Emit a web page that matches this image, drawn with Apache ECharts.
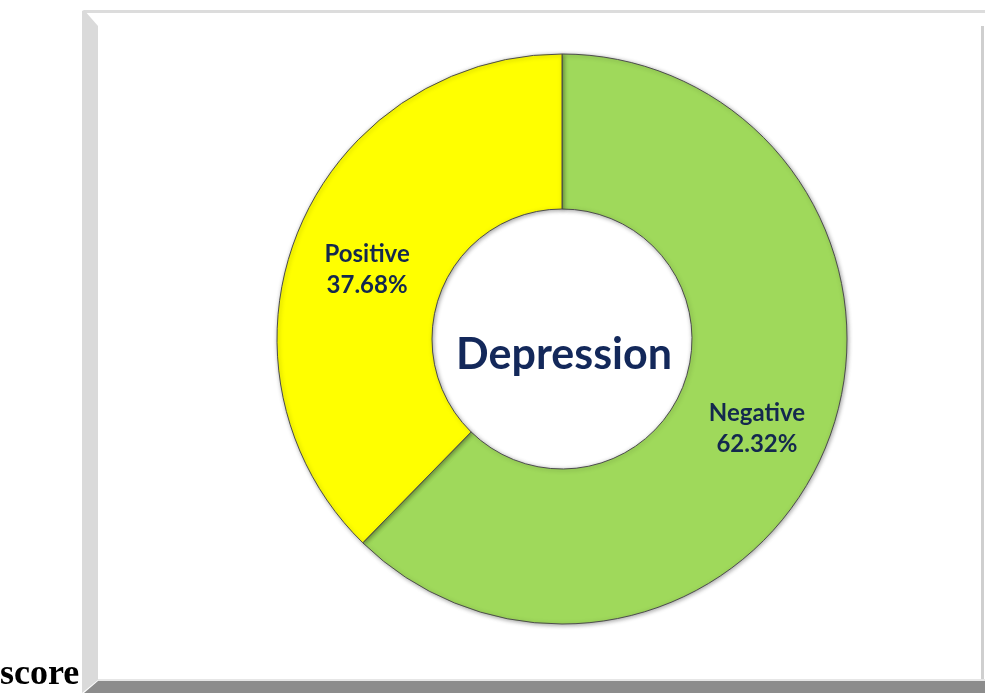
<!DOCTYPE html>
<html>
<head>
<meta charset="utf-8">
<script src="https://cdn.jsdelivr.net/npm/echarts@6/dist/echarts.min.js"></script>
<style>
html,body{margin:0;padding:0;background:#fff;}
#chart{width:985px;height:699px;}
</style>
</head>
<body>
<div id="chart"></div>
<script>
const categories = ['Negative', 'Positive'];
const values = [62.32, 37.68];
const colors = ['#9fd95b', '#ffff00'];
const centerTitle = 'Depression';
const sideText = 'score';

const chart = echarts.init(document.getElementById('chart'));
const option = {
  backgroundColor: '#ffffff',
  animation: false,
  graphic: [
    { type: 'rect', shape: { x: 84, y: 10, width: 901, height: 3 }, style: { fill: '#dcdcdc' }, z: 0 },
    { type: 'rect', shape: { x: 981, y: 26, width: 3, height: 656 }, style: { fill: '#cfcfcf' }, z: 0 },
    { type: 'polygon', shape: { points: [[82, 11], [84, 10], [98, 26], [98, 680], [82, 693]] }, style: { fill: '#dadada' }, z: 0 },
    { type: 'polygon', shape: { points: [[98, 681], [985, 681], [985, 693], [84, 693]] }, style: { fill: '#8c8c8c' }, z: 0 },
    { type: 'rect', shape: { x: 98, y: 679, width: 887, height: 2 }, style: { fill: '#e6e6e6' }, z: 0 },
    {
      type: 'text', x: 0, y: 693,
      style: { text: sideText, font: 'bold 36px "Liberation Serif", serif', fill: '#000', verticalAlign: 'bottom' }
    },
    {
      type: 'text', x: 564, y: 355,
      style: { text: centerTitle, font: 'bold 43px Lato, "Open Sans", sans-serif', fill: '#13285a', align: 'center', verticalAlign: 'middle' },
      z: 10
    }
  ],
  series: [{
    type: 'pie',
    center: [562, 339],
    radius: [130, 285],
    startAngle: 90,
    clockwise: true,
    silent: true,
    itemStyle: {
      borderColor: '#4d4d4d',
      borderWidth: 1,
      shadowColor: 'rgba(0,0,0,0.35)',
      shadowBlur: 4,
      shadowOffsetX: 1,
      shadowOffsetY: 1
    },
    label: {
      show: true,
      position: 'inside',
      formatter: function (p) { return '{s|}\n{a|' + p.name + '}\n{a|' + p.value.toFixed(2) + '%}'; },
      rich: {
        s: { height: 20, lineHeight: 20 },
        a: {
          color: '#14284e',
          fontFamily: 'Lato, "Open Sans", sans-serif',
          fontWeight: 'bold',
          fontSize: 24,
          lineHeight: 31
        }
      }
    },
    labelLine: { show: false },
    data: categories.map((c, i) => ({ name: c, value: values[i], itemStyle: { color: colors[i] } }))
  }]
};
chart.setOption(option);
</script>
</body>
</html>
